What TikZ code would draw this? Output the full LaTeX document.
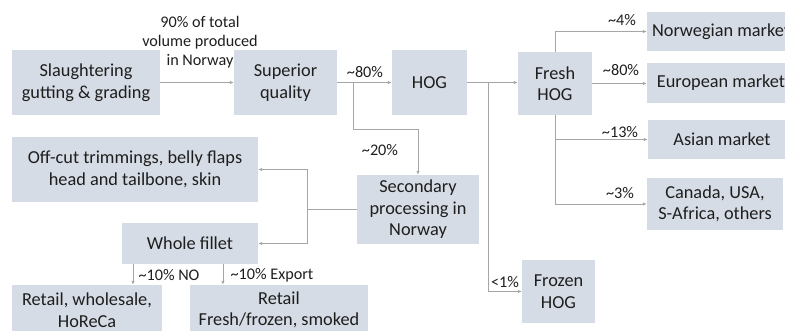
\documentclass[tikz,border=0pt]{standalone}
\usepackage{fontspec}
\setmainfont{Carlito}
\usetikzlibrary{arrows.meta}
\definecolor{boxfill}{HTML}{D6DCE5}
\definecolor{flowline}{HTML}{A6A6A6}
\definecolor{inktext}{HTML}{1E1E1E}

\begin{document}
\begin{tikzpicture}[x=1pt,y=-1pt,
                    stage/.style={fill=boxfill,inner sep=0pt,align=center,text=inktext,font=\fontsize{18.3}{21.5}\selectfont},
                    share/.style={inner sep=0pt,align=center,text=inktext,font=\fontsize{16.2}{19}\selectfont},
                    flow/.style={draw=flowline,line width=0.9pt,-{Latex[length=4pt,width=3.5pt]}}]
  \useasboundingbox (0,0) rectangle (785,331);

  % boxes
  \node[stage,minimum width=148pt,minimum height=65pt] (slaughter) at (86,82.5) {Slaughtering\\gutting \& grading};
  \node[stage,minimum width=103pt,minimum height=65pt] (superior) at (285.5,82.5) {Superior\\quality};
  \node[stage,minimum width=75pt,minimum height=65pt] (hog) at (429.5,82.5) {HOG};
  \node[stage,minimum width=74pt,minimum height=63pt] (freshhog) at (555,83.5) {Fresh\\HOG};
  \node[stage,minimum width=148pt,minimum height=39pt] (norwegian) at (721,31.5) {Norwegian market};
  \node[stage,minimum width=148pt,minimum height=40pt] (european) at (721,83) {European market};
  \node[stage,minimum width=148pt,minimum height=39pt] (asian) at (722,139.5) {Asian market};
  \node[stage,minimum width=136pt,minimum height=52pt] (canada) at (715,204) {Canada, USA,\\S-Africa, others};
  \node[stage,minimum width=73pt,minimum height=63pt] (frozen) at (558.5,291.5) {Frozen\\HOG};
  \node[stage,minimum width=122pt,minimum height=69pt] (secondary) at (418,209.5) {Secondary\\processing in\\Norway};
  \node[stage,minimum width=246pt,minimum height=65pt] (offcut) at (135,169.5) {Off-cut trimmings, belly flaps\\head and tailbone, skin};
  \node[stage,minimum width=136pt,minimum height=41pt] (fillet) at (190,243.5) {Whole fillet};
  \node[stage,minimum width=150pt,minimum height=50pt] (retailno) at (87,310) {Retail, wholesale,\\HoReCa};
  \node[stage,minimum width=178pt,minimum height=50pt] (retailexp) at (279,310) {Retail\\Fresh/frozen, smoked};
  \fill[boxfill] (retailno.south west) rectangle ++(150,10);
  \fill[boxfill] (retailexp.south west) rectangle ++(178,10);

  % split points
  \coordinate (split20) at (353,129);
  \coordinate (splitfrozen) at (488,82.5);

  % connectors
  \draw[flow] (slaughter.east) -- (superior.west);
  \draw[flow] (superior.east) -- (hog.west);
  \draw[flow] (superior.east) -| (split20) -| (secondary.north);
  \draw[flow] (hog.east) -- (hog.east -| freshhog.west);
  \draw[flow] (splitfrozen) |- (frozen.west);
  \draw[flow] (freshhog.north) |- (norwegian.west);
  \draw[flow] (freshhog.east) -- (freshhog.east -| european.west);
  \draw[flow] (freshhog.south) |- (asian.west);
  \draw[flow] (freshhog.south) |- (canada.west);
  \draw[flow] (secondary.west) -- ++(-49,0) |- (offcut.east);
  \draw[flow] (secondary.west) -- ++(-49,0) |- (fillet.east);
  \draw[flow] ([xshift=-57pt]fillet.south) -- ([xshift=-57pt]fillet.south |- retailno.north);
  \draw[flow] ([xshift=33pt]fillet.south) -- ([xshift=33pt]fillet.south |- retailexp.north);

  % shares
  \node[share] (lblvolume) at (200,42) {90\% of total\\volume produced\\in Norway};
  \node[share] (lblhog) at (365,72) {\textasciitilde80\%};
  \node[share] (lblsecondary) at (380,150) {\textasciitilde20\%};
  \node[share] (lblnorwegian) at (622,20) {\textasciitilde4\%};
  \node[share] (lbleuropean) at (621,70) {\textasciitilde80\%};
  \node[share] (lblasian) at (620,132) {\textasciitilde13\%};
  \node[share] (lblcanada) at (620,193) {\textasciitilde3\%};
  \node[share] (lblfrozen) at (505,282) {<1\%};
  \node[share] (lblno) at (169,275) {\textasciitilde10\% NO};
  \node[share] (lblexport) at (272,275) {\textasciitilde10\% Export};
\end{tikzpicture}
\end{document}
